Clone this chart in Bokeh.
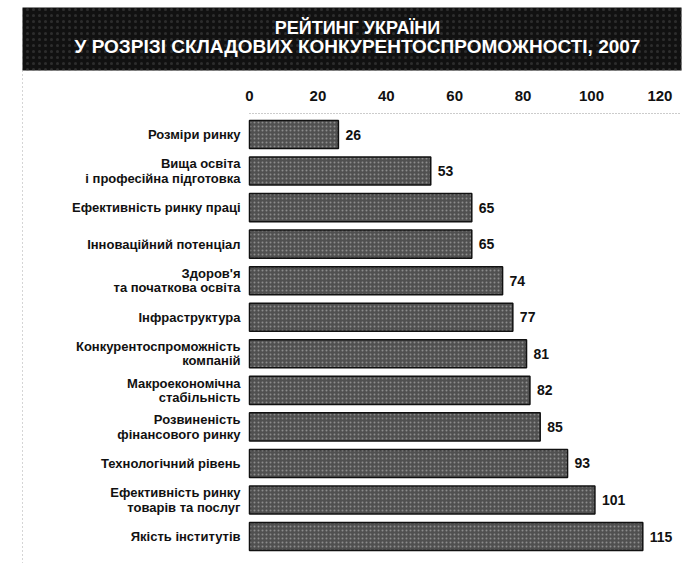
from bokeh.plotting import figure
from bokeh.models import Range1d, ColumnDataSource
from bokeh.core.properties import value
from bokeh.embed import file_html
from bokeh.resources import INLINE

# ---- data ----
categories = [
    "Розміри ринку",
    "Вища освіта\nі професійна підготовка",
    "Ефективність ринку праці",
    "Інноваційний потенціал",
    "Здоров'я\nта початкова освіта",
    "Інфраструктура",
    "Конкурентоспроможність\nкомпаній",
    "Макроекономічна\nстабільність",
    "Розвиненість\nфінансового ринку",
    "Технологічний рівень",
    "Ефективність ринку\nтоварів та послуг",
    "Якість інститутів",
]
ranks = [26, 53, 65, 65, 74, 77, 81, 82, 85, 93, 101, 115]
ticks = [0, 20, 40, 60, 80, 100, 120]
title_line1 = "РЕЙТИНГ УКРАЇНИ"
title_line2 = "У РОЗРІЗІ СКЛАДОВИХ КОНКУРЕНТОСПРОМОЖНОСТІ, 2007"

# ---- layout (pixels of the canvas) ----
W, H = 682, 563
ZERO_PX = 249.0      # canvas x of value 0
PX_PER_UNIT = 3.42
FIRST_ROW_PX = 134.0 # canvas y of first bar centre
ROW_PX = 36.55

def vx(px):
    return (px - ZERO_PX) / PX_PER_UNIT

def iy(py):
    return (py - FIRST_ROW_PX) / ROW_PX

FONT = value("Liberation Sans")

p = figure(width=W, height=H,
           x_range=Range1d(vx(0), vx(W)),
           y_range=Range1d(iy(H), iy(0)),
           x_axis_location=None, y_axis_location=None,
           toolbar_location=None, output_backend="svg", min_border=0)
p.grid.visible = False
p.outline_line_color = None
p.background_fill_color = "white"
p.border_fill_color = "white"

# title band
p.quad(left=[vx(22)], right=[vx(681)], top=[iy(7)], bottom=[iy(70)],
       fill_color="#111111", line_color=None,
       hatch_pattern=".", hatch_color="#4a4a4a", hatch_scale=6, hatch_alpha=0.5)
p.text(x=[vx(357)], y=[iy(27)], text=[title_line1], text_font=FONT,
       text_font_style="bold", text_font_size="18px", text_color="white",
       text_align="center", text_baseline="middle")
p.text(x=[vx(357)], y=[iy(46)], text=[title_line2], text_font=FONT,
       text_font_style="bold", text_font_size="19px", text_color="white",
       text_align="center", text_baseline="middle")

# frame dotted lines
p.segment(x0=[vx(22)], x1=[vx(22)], y0=[iy(70)], y1=[iy(H)],
          line_color="#aaaaaa", line_width=1, line_dash="1 3")
p.segment(x0=[0], x1=[vx(680)], y0=[iy(113)], y1=[iy(113)],
          line_color="#999999", line_width=1, line_dash="1 2")

# tick labels
p.text(x=ticks, y=[iy(95)] * len(ticks), text=[str(t) for t in ticks],
       text_font=FONT, text_font_style="bold", text_font_size="15px",
       text_color="#111111", text_align="center", text_baseline="middle")

idx = list(range(len(categories)))
src = ColumnDataSource(dict(y=idx, v=ranks, cat=categories,
                            lab=[str(r) for r in ranks]))

p.hbar(y="y", left=0, right="v", height=0.77, source=src,
       fill_color="#505050", line_color="#111111", line_width=1.5,
       hatch_pattern=".", hatch_color="#c8c8c8", hatch_scale=4, hatch_alpha=0.5)

p.text(x="v", y="y", text="lab", source=src, x_offset=7,
       text_font=FONT, text_font_style="bold", text_font_size="14px",
       text_color="#111111", text_align="left", text_baseline="middle")

p.text(x=vx(240), y="y", text="cat", source=src,
       text_font=FONT, text_font_style="bold", text_font_size="13px",
       text_color="#111111", text_align="right", text_baseline="middle",
       text_line_height=0.95)

open("out.html", "w").write(file_html(p, INLINE))
